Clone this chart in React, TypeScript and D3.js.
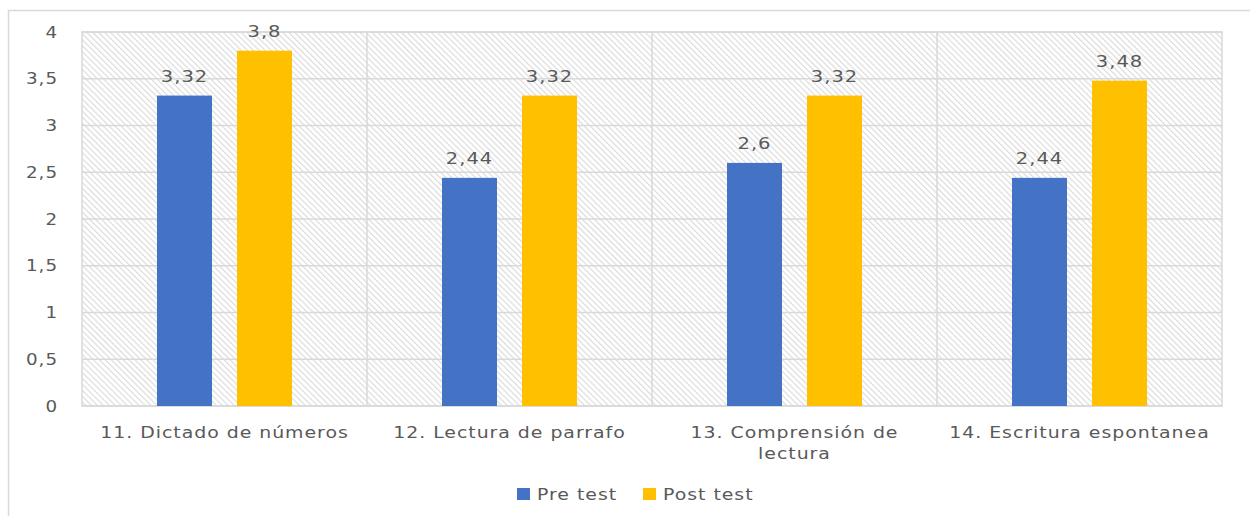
import { useRef, useEffect } from "react";
import * as d3 from "d3";

const CATEGORIES = [
  ["11. Dictado de números"],
  ["12. Lectura de parrafo"],
  ["13. Comprensión de", "lectura"],
  ["14. Escritura espontanea"],
];
const SERIES = ["Pre test", "Post test"];
const PRE_TEST = [3.32, 2.44, 2.6, 2.44];
const POST_TEST = [3.8, 3.32, 3.32, 3.48];
const Y_TICKS = [0, 0.5, 1, 1.5, 2, 2.5, 3, 3.5, 4];

const COLORS = ["#4472c4", "#ffc000"];
const WIDTH = 1250;
const HEIGHT = 516;
const PLOT = { left: 82, right: 1222, top: 32, bottom: 406 };
const TEXT = "#595959";
const FONT = "'DejaVu Sans', Verdana, sans-serif";
const STRETCH = 1.22; // reference text is horizontally stretched

const fmt = (v: number) => String(v).replace(".", ",");

export default function App() {
  const svgRef = useRef<SVGSVGElement>(null);

  useEffect(() => {
    const svg = d3.select(svgRef.current);
    svg.selectAll("*").remove();

    const stretched = (
      parent: d3.Selection<any, any, any, any>,
      px: number,
      py: number,
      str: string,
      size: number,
      anchor: string
    ) =>
      parent
        .append("text")
        .attr("transform", `translate(${px},${py}) scale(${STRETCH},1)`)
        .attr("text-anchor", anchor)
        .attr("fill", TEXT)
        .attr("font-family", FONT)
        .attr("font-size", size)
        .attr("letter-spacing", 0.8)
        .text(str);

    const defs = svg.append("defs");
    const pat = defs
      .append("pattern")
      .attr("id", "hatch")
      .attr("patternUnits", "userSpaceOnUse")
      .attr("width", 4.2)
      .attr("height", 4.2)
      .attr("patternTransform", "rotate(-45)");
    pat.append("rect").attr("width", 4.2).attr("height", 4.2).attr("fill", "#ffffff");
    pat
      .append("line")
      .attr("x1", 0.5)
      .attr("y1", 0)
      .attr("x2", 0.5)
      .attr("y2", 4.2)
      .attr("stroke", "#dcdcdc")
      .attr("stroke-width", 1.4);

    // outer frame
    svg
      .append("path")
      .attr("d", `M8.5,${HEIGHT} V10.5 H${WIDTH}`)
      .attr("fill", "none")
      .attr("stroke", "#d9d9d9")
      .attr("stroke-width", 1.5);

    const labels = CATEGORIES.map((c) => c.join(" "));
    const x = d3.scaleBand().domain(labels).range([PLOT.left, PLOT.right]);
    const x1 = d3
      .scaleBand()
      .domain(SERIES)
      .range([0, x.bandwidth()])
      .paddingInner(0.3125)
      .paddingOuter(0.9375);
    const y = d3.scaleLinear().domain([0, 4]).range([PLOT.bottom, PLOT.top]);

    // hatched plot background
    svg
      .append("rect")
      .attr("x", PLOT.left)
      .attr("y", PLOT.top)
      .attr("width", PLOT.right - PLOT.left)
      .attr("height", PLOT.bottom - PLOT.top)
      .attr("fill", "url(#hatch)")
      .attr("stroke", "#d9d9d9")
      .attr("stroke-width", 1.5);

    // horizontal grid
    svg
      .append("g")
      .selectAll("line")
      .data(Y_TICKS)
      .join("line")
      .attr("x1", PLOT.left)
      .attr("x2", PLOT.right)
      .attr("y1", (d) => y(d))
      .attr("y2", (d) => y(d))
      .attr("stroke", "#d9d9d9")
      .attr("stroke-width", 1.5);

    // category separators
    svg
      .append("g")
      .selectAll("line")
      .data(labels.slice(1))
      .join("line")
      .attr("x1", (d) => x(d) ?? 0)
      .attr("x2", (d) => x(d) ?? 0)
      .attr("y1", PLOT.top)
      .attr("y2", PLOT.bottom)
      .attr("stroke", "#d9d9d9")
      .attr("stroke-width", 1.5);

    // y tick labels
    const yg = svg.append("g");
    Y_TICKS.forEach((t) => stretched(yg, 58, y(t) + 5.5, fmt(t), 15, "end"));

    const values = [PRE_TEST, POST_TEST];
    const bars = SERIES.flatMap((s, si) =>
      labels.map((c, ci) => ({ s, si, c, v: values[si][ci] }))
    );

    svg
      .append("g")
      .selectAll("rect")
      .data(bars)
      .join("rect")
      .attr("x", (d) => (x(d.c) ?? 0) + (x1(d.s) ?? 0))
      .attr("y", (d) => y(d.v))
      .attr("width", x1.bandwidth())
      .attr("height", (d) => y(0) - y(d.v))
      .attr("fill", (d) => COLORS[d.si]);

    const vg = svg.append("g");
    bars.forEach((d) =>
      stretched(
        vg,
        (x(d.c) ?? 0) + (x1(d.s) ?? 0) + x1.bandwidth() / 2,
        y(d.v) - 13.5,
        fmt(d.v),
        16,
        "middle"
      )
    );

    // category labels
    const cg = svg.append("g");
    CATEGORIES.forEach((lines, i) => {
      const cx = (x(labels[i]) ?? 0) + x.bandwidth() / 2;
      lines.forEach((ln, li) => stretched(cg, cx, 438 + li * 21, ln, 15.5, "middle"));
    });

    // legend
    const legendX = [517, 643];
    const lg = svg.append("g");
    SERIES.forEach((s, i) => {
      lg.append("rect")
        .attr("x", legendX[i])
        .attr("y", 488)
        .attr("width", 13)
        .attr("height", 12)
        .attr("fill", COLORS[i]);
      stretched(lg, legendX[i] + 20, 500, s, 15.5, "start");
    });
  }, []);

  return (
    <svg
      ref={svgRef}
      width={WIDTH}
      height={HEIGHT}
      viewBox={`0 0 ${WIDTH} ${HEIGHT}`}
      style={{ position: "absolute", left: 0, top: 0, background: "#fff" }}
    />
  );
}
